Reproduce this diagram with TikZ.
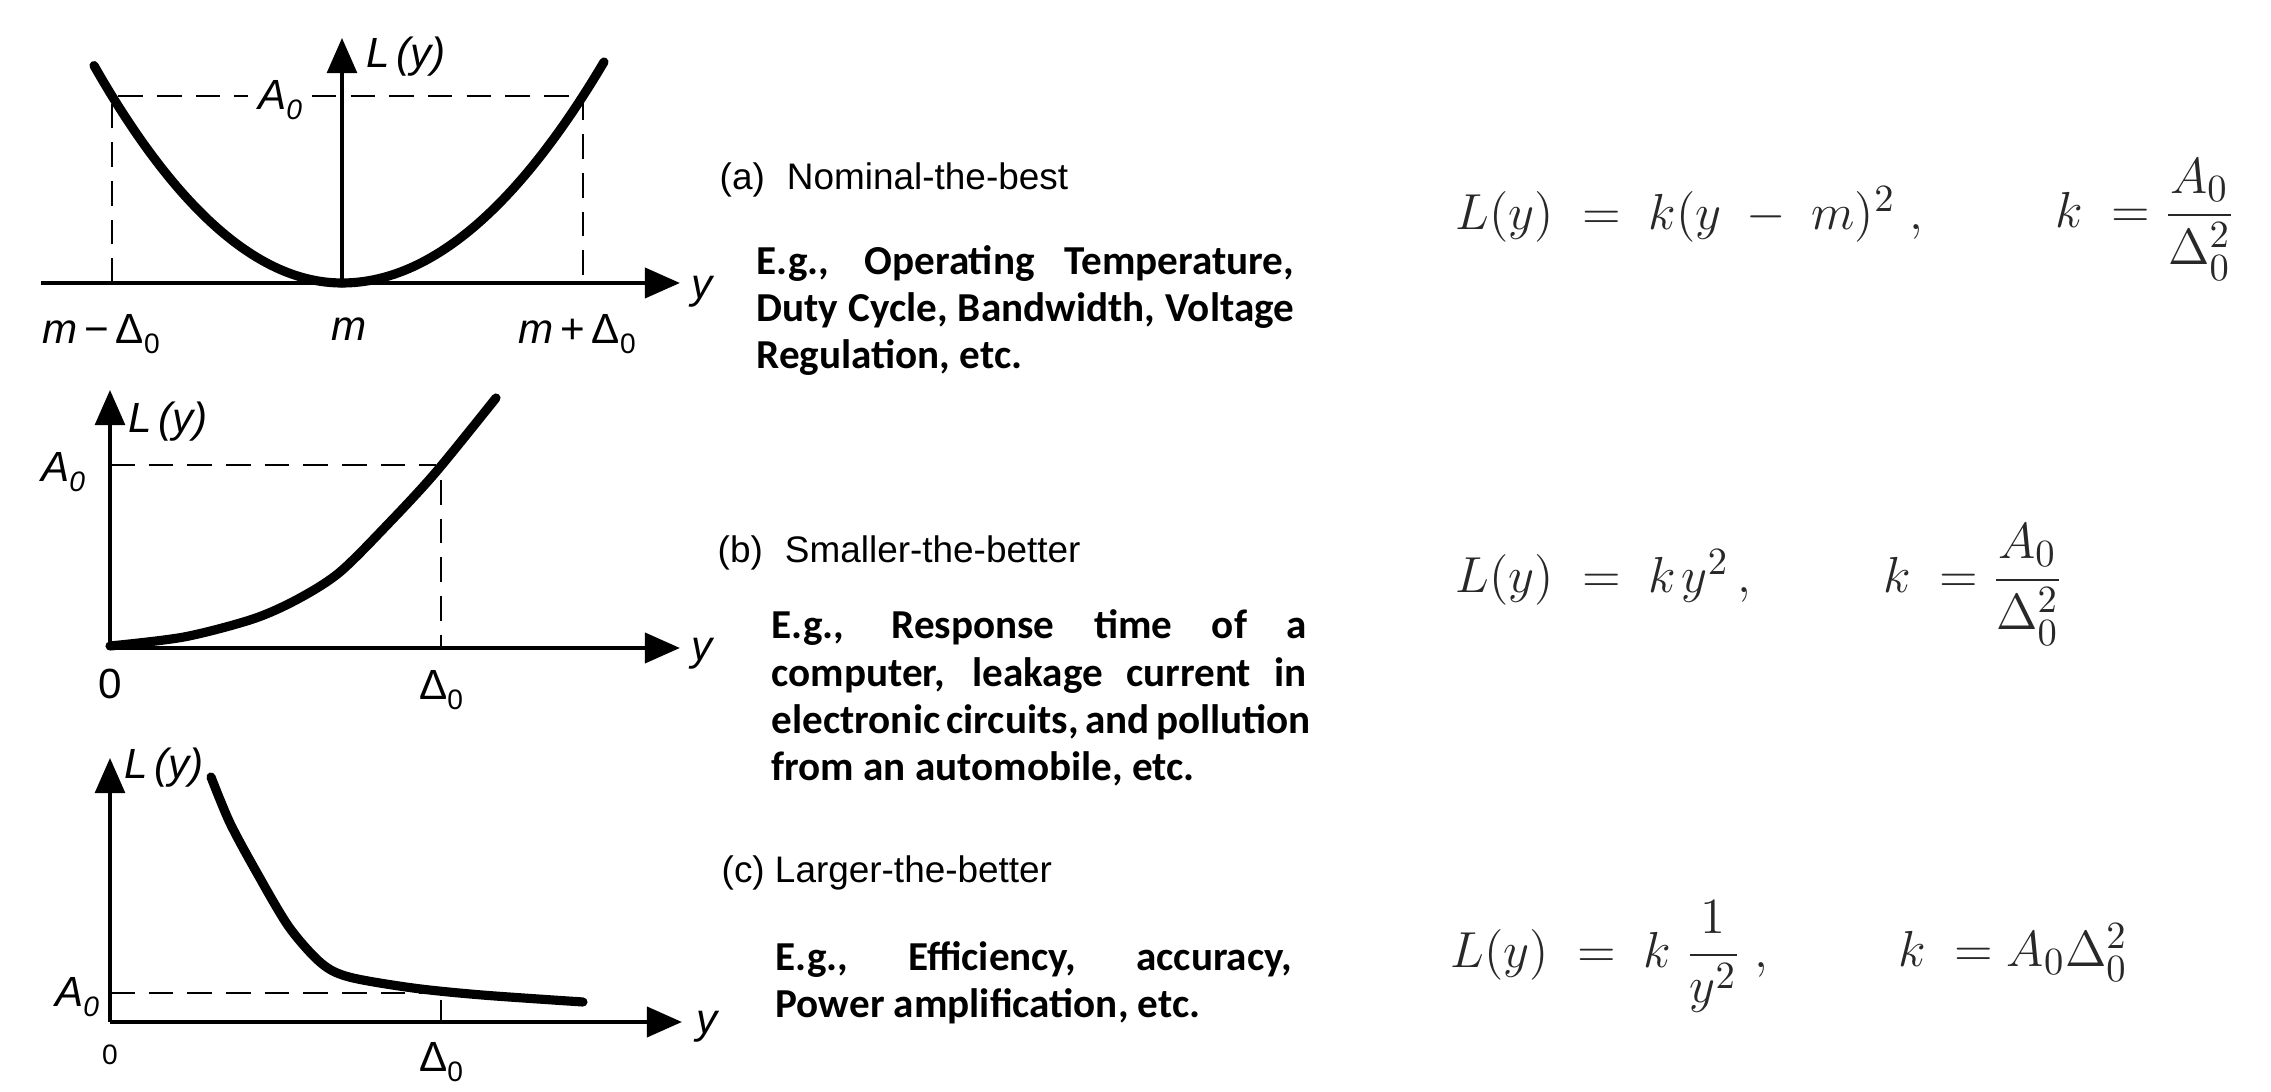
\documentclass[tikz,border=0pt]{standalone}
\usepackage{amsmath}
\usepackage{fontspec}
\usetikzlibrary{arrows.meta}
\newfontfamily\calfont{Carlito}
\newfontfamily\headfont{Liberation Sans}
\newfontfamily\plotfont{Liberation Sans}
\definecolor{eqgray}{RGB}{40,40,40}
\newcommand\lsub[1]{\raisebox{-0.45ex}{\fontsize{8}{9}\selectfont #1}}
\tikzset{
  xaxis/.style={line width=1.3pt, -{Triangle[length=10pt,width=8.5pt]}},
  yaxis/.style={line width=1pt, -{Triangle[length=10pt,width=8.5pt]}},
  curve/.style={line width=2.6pt, line cap=round, line join=round},
  guide/.style={line width=0.7pt, dash pattern=on 7pt off 4pt},
  tickline/.style={line width=0.7pt},
  plotlabel/.style={font=\plotfont\fontsize{12}{13}\selectfont, inner sep=1pt},
  smalllabel/.style={font=\plotfont\fontsize{8}{9}\selectfont, inner sep=1pt},
  head/.style={font=\headfont\fontsize{10.5}{12}\selectfont, anchor=west, inner sep=0pt},
  example/.style={font=\calfont\bfseries\fontsize{11.7}{13.5}\selectfont, anchor=base west, inner sep=0pt, align=left},
  eq/.style={font=\fontsize{15.5}{17}\selectfont, text=eqgray, anchor=base west, inner sep=0pt},
}
\begin{document}
\begin{tikzpicture}[x=0.01cm,y=-0.01cm]
\useasboundingbox (0,0) rectangle (2271,1092);
\fill[white] (0,0) rectangle (2271,1092);

% ---------- plot (a) ----------
\coordinate (aL) at (41,283);
\coordinate (aO) at (342,283);
\coordinate (aX) at (680,283);
\coordinate (aY) at (342,38);
\coordinate (aB1) at (112,283);
\coordinate (aP1) at (112,96);
\coordinate (aP2) at (583,96);
\coordinate (aB2) at (583,283);
\draw[guide] (aB1) -- (aP1) -- (aP2) -- (aB2);
\draw[xaxis] (aL) -- (aX);
\draw[yaxis] (aO) -- (aY);
\draw[curve] plot[domain=94:342, samples=60] (\x, {283-187*((342-\x)/230)^2});
\draw[curve] plot[domain=342:604, samples=60] (\x, {283-187*((\x-342)/241)^2});
\node[plotlabel, fill=white, inner xsep=3pt] (aA) at (280,100) {\itshape A\lsub{0}};
\node[plotlabel] (aLy) at (406,57) {\itshape L\,(y)};
\node[plotlabel] (amd) at (101,334) {\itshape m\upshape\,−\,Δ\lsub{0}};
\node[plotlabel] (am) at (349,329) {\itshape m};
\node[plotlabel] (apd) at (577,334) {\itshape m\upshape\,+\,Δ\lsub{0}};
\node[plotlabel] (ay) at (702,292) {\itshape y};

% ---------- plot (b) ----------
\coordinate (bO) at (110,648);
\coordinate (bX) at (680,648);
\coordinate (bY) at (110,390);
\coordinate (bA) at (110,465);
\coordinate (bP) at (436,465);
\coordinate (bT) at (441,480);
\coordinate (bB) at (441,648);
\draw[guide] (bA) -- (bP);
\draw[guide] (bT) -- (bB);
\draw[xaxis] (bO) -- (bX);
\draw[yaxis] (bO) -- (bY);
\draw[curve] plot[smooth] coordinates {(110,646) (184,637) (253,619) (298,599) (340,572) (390,522) (436,472) (496,398)};
\node[plotlabel] (bLy) at (168,422) {\itshape L\,(y)};
\node[plotlabel] (bAl) at (63,472) {\itshape A\lsub{0}};
\node[plotlabel] (b0) at (110,684) {0};
\node[plotlabel] (bD) at (441,690) {Δ\lsub{0}};
\node[plotlabel] (by) at (702,654) {\itshape y};

% ---------- plot (c) ----------
\coordinate (cO) at (110,1022);
\coordinate (cX) at (682,1022);
\coordinate (cY) at (110,758);
\coordinate (cA) at (110,993);
\coordinate (cP) at (436,993);
\coordinate (cT) at (441,1000);
\coordinate (cB) at (441,1022);
\draw[guide] (cA) -- (cP);
\draw[tickline] (cT) -- (cB);
\draw[xaxis] (cO) -- (cX);
\draw[yaxis] (cO) -- (cY);
\draw[curve] plot[smooth] coordinates {(211,777) (230,823) (257,873) (289,927) (321,963) (349,977) (413,988) (482,995) (583,1002)};
\node[plotlabel] (cLy) at (164,768) {\itshape L\,(y)};
\node[plotlabel] (cAl) at (77,997) {\itshape A\lsub{0}};
\node[smalllabel] (c0) at (110,1055) {0};
\node[plotlabel] (cD) at (441,1062) {Δ\lsub{0}};
\node[plotlabel] (cy) at (707,1027) {\itshape y};

% ---------- headings and examples ----------
\node[head] (ha) at (719,180) {(a)\hspace{0.6em}Nominal-the-best};
\node[example] (ea) at (756,369) {\makebox[5.37cm][s]{E.g., Operating Temperature,}\\
\makebox[5.37cm][s]{Duty Cycle, Bandwidth, Voltage}\\
Regulation, etc.};

\node[head] (hb) at (717,553) {(b)\hspace{0.6em}Smaller-the-better};
\node[example] (eb) at (771,781) {\makebox[5.35cm][s]{E.g., Response time of a}\\
\makebox[5.35cm][s]{computer, leakage current in}\\
\makebox[5.35cm][s]{electronic circuits, and pollution}\\
from an automobile, etc.};

\node[head] (hc) at (721,873) {(c) Larger-the-better};
\node[example] (ec) at (775,1018) {\makebox[5.16cm][s]{E.g., Efficiency, accuracy,}\\
Power amplification, etc.};

% ---------- equations ----------
\node[eq] (e1a) at (1455,230) {$L(y) \;=\; k(y \;-\; m)^2\;,$};
\node[eq] (e1b) at (2055,228) {$k \;= \dfrac{A_0}{\Delta_0^2}$};
\node[eq] (e2a) at (1455,593) {$L(y) \;=\; k\mkern2mu y^2\,,$};
\node[eq] (e2b) at (1883,593) {$k \;= \dfrac{A_0}{\Delta_0^2}$};
\node[eq] (e3a) at (1450,968) {$L(y) \;=\; k\;\dfrac{1}{y^2}\;,$};
\node[eq] (e3b) at (1898,967) {$k \;= A_0\Delta_0^2$};
\end{tikzpicture}
\end{document}
